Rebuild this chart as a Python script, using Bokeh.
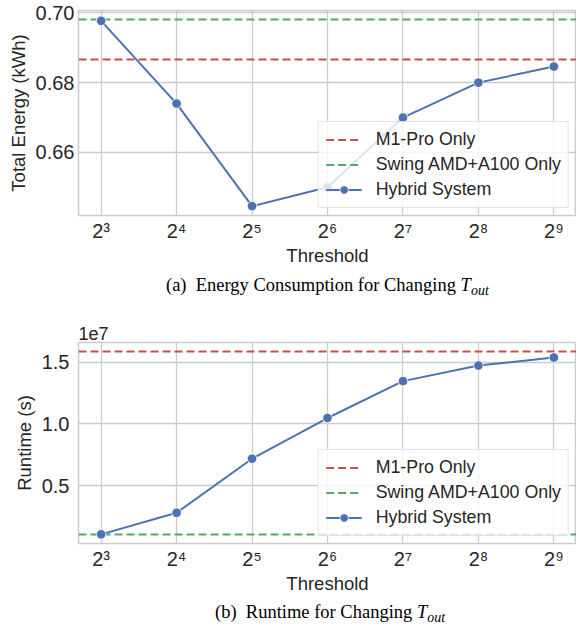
import numpy as np
from bokeh.plotting import figure
from bokeh.layouts import column
from bokeh.models import (Range1d, FixedTicker, CustomJSTickFormatter, Title,
                          PrintfTickFormatter, Div)
from bokeh.embed import file_html
from bokeh.resources import INLINE

# ---------------- data ----------------
thresholds = [8, 16, 32, 64, 128, 256, 512]
threshold_labels = ["2\u00b3", "2\u2074", "2\u2075", "2\u2076", "2\u2077", "2\u2078", "2\u2079"]

hybrid_energy = [0.6977, 0.674, 0.6446, 0.650, 0.670, 0.680, 0.6846]
m1_energy = 0.6866
swing_energy = 0.698
energy_ticks = [0.66, 0.68, 0.70]

hybrid_runtime = [1.05e6, 2.8e6, 7.18e6, 1.048e7, 1.347e7, 1.473e7, 1.538e7]
m1_runtime = 1.586e7
swing_runtime = 1.05e6
runtime_ticks = [0.5e7, 1.0e7, 1.5e7]

caption_a = "(a)&ensp;Energy Consumption for Changing"
caption_b = "(b)&ensp;Runtime for Changing"

BLUE = "#4c72b0"
RED = "#c44e52"
GREEN = "#55a868"
GRID = "#cccccc"
TEXT = "#262626"
SANS = "Liberation Sans"
SERIF = "Liberation Serif"
W = 576


def x_range_log(vals, m=0.05):
    lo, hi = np.log2(min(vals)), np.log2(max(vals))
    s = hi - lo
    return Range1d(2 ** (lo - m * s), 2 ** (hi + m * s))


def y_range_lin(vals, m=0.05):
    lo, hi = min(vals), max(vals)
    s = hi - lo
    return Range1d(lo - m * s, hi + m * s)


def make_panel(height, borders, y_vals, ylabel, yticks, yfmt, hybrid, m1, swing, ystand):
    top, right, bottom, left = borders
    p = figure(width=W, height=height, x_axis_type="log",
               x_range=x_range_log(thresholds), y_range=y_range_lin(y_vals),
               output_backend="svg", toolbar_location=None,
               min_border_top=top, min_border_right=right,
               min_border_bottom=bottom, min_border_left=left)
    p.background_fill_color = "white"
    p.border_fill_color = "white"
    p.outline_line_color = GRID
    p.outline_line_width = 1.5
    p.grid.grid_line_color = GRID
    p.grid.grid_line_width = 1.3
    p.xgrid.ticker = FixedTicker(ticks=thresholds)
    p.ygrid.ticker = FixedTicker(ticks=yticks)

    p.xaxis.ticker = FixedTicker(ticks=thresholds)
    p.xaxis.major_label_overrides = {t: l for t, l in zip(thresholds, threshold_labels)}
    p.yaxis.ticker = FixedTicker(ticks=yticks)
    p.yaxis.formatter = yfmt
    for ax in (p.xaxis[0], p.yaxis[0]):
        ax.axis_line_color = None
        ax.major_tick_line_color = None
        ax.minor_tick_line_color = None
        ax.major_tick_out = 0
        ax.major_tick_in = 0
        ax.minor_tick_out = 0
        ax.minor_tick_in = 0
        ax.major_label_text_font = SANS
        ax.major_label_text_font_size = "20px"
        ax.major_label_text_color = TEXT
        ax.axis_label_text_font = SANS
        ax.axis_label_text_font_size = "18.5px"
        ax.axis_label_text_font_style = "normal"
        ax.axis_label_text_color = TEXT
    p.xaxis.axis_label = "Threshold"
    p.xaxis.major_label_standoff = 4
    p.xaxis.axis_label_standoff = 0
    p.yaxis.axis_label = ylabel
    p.yaxis.major_label_standoff = ystand
    p.yaxis.axis_label_standoff = 4

    p.hspan(y=[m1], line_color=RED, line_width=2, line_dash="8 4", legend_label="M1-Pro Only")
    p.hspan(y=[swing], line_color=GREEN, line_width=2, line_dash="8 4",
            legend_label="Swing AMD+A100 Only")
    p.line(thresholds, hybrid, line_color=BLUE, line_width=2, legend_label="Hybrid System")
    p.scatter(thresholds, hybrid, size=9.5, fill_color=BLUE, line_color="white",
              line_width=0.8, legend_label="Hybrid System")

    lg = p.legend[0]
    lg.location = "bottom_right"
    lg.margin = 7
    lg.padding = 7
    lg.spacing = 4
    lg.glyph_width = 36
    lg.glyph_height = 21
    lg.label_height = 21
    lg.label_standoff = 14
    lg.label_text_font = SANS
    lg.label_text_font_size = "17.8px"
    lg.label_text_color = TEXT
    lg.border_line_color = GRID
    lg.border_line_width = 1
    lg.background_fill_alpha = 0.8
    return p


def make_caption(main, left, height):
    html = (main + ' <i>T<span style="font-size:14px; position:relative; top:4px;">out</span></i>')
    return Div(text=html, width=W, height=height,
               styles={"font-family": SERIF, "font-size": "18.5px", "color": "black",
                       "line-height": f"{height}px", "padding-left": f"{left}px",
                       "white-space": "nowrap", "box-sizing": "border-box",
                       "margin": "0", "overflow": "visible"})


energy_vals = hybrid_energy + [m1_energy, swing_energy]
p1 = make_panel(275, (10, 0, 60, 78), energy_vals, "Total Energy (kWh)", energy_ticks,
                PrintfTickFormatter(format="%.2f"), hybrid_energy, m1_energy, swing_energy, 4)
cap1 = make_caption(caption_a, 166, 20)

runtime_vals = hybrid_runtime + [m1_runtime, swing_runtime]
p2 = make_panel(308, (47, 0, 60, 75), runtime_vals, "Runtime (s)", runtime_ticks,
                CustomJSTickFormatter(code="return (tick/1e7).toFixed(1);"),
                hybrid_runtime, m1_runtime, swing_runtime, 9)
p2.add_layout(Title(text="1e7", align="left", text_font=SANS, text_font_size="18px",
                    text_font_style="normal", text_color=TEXT, standoff=6), "above")
cap2 = make_caption(caption_b, 215, 18)

layout = column(p1, cap1, p2, cap2, spacing=0)
open("out.html", "w").write(file_html(layout, INLINE))
